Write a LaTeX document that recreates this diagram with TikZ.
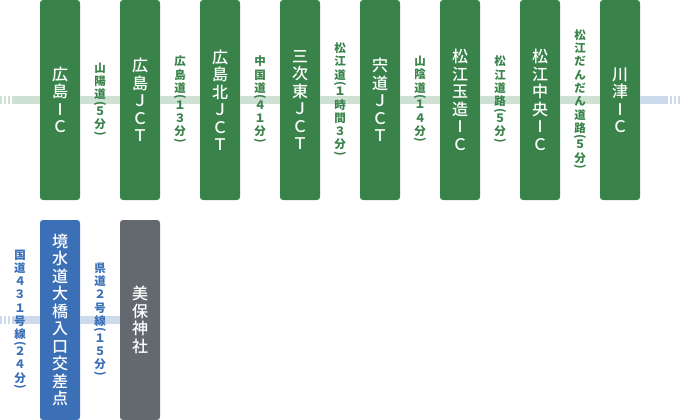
\documentclass[tikz,border=0pt]{standalone}
\usepackage{fontspec}
\usepackage{graphicx}
\setmainfont{Noto Sans CJK JP}
\newfontfamily\medfont{Noto Sans CJK JP}[UprightFont=* Medium]
\newcommand\vlp{\\[-5pt]\rotatebox[origin=c]{-90}{(}\\[-5pt]}
\newcommand\vrp{\\[-5pt]\rotatebox[origin=c]{-90}{)}}
\definecolor{gbox}{HTML}{39834B}
\definecolor{gband}{HTML}{CFE1D3}
\definecolor{bbox}{HTML}{3B6FB6}
\definecolor{bband}{HTML}{CCDAEB}
\definecolor{graybox}{HTML}{646970}
\begin{document}
\begin{tikzpicture}[x=1pt,y=-1pt,
  box/.style={rectangle, rounded corners=3pt, minimum width=40pt, minimum height=200pt,
    inner sep=0pt, fill=gbox, text=white, align=center,
    font=\medfont\fontsize{16}{17.5}\selectfont},
  bluebox/.style={box, fill=bbox},
  graybx/.style={box, fill=graybox},
  lab/.style={inner sep=0pt, align=center, text=gbox,
    font=\bfseries\fontsize{11.5}{13.3}\selectfont},
  bluelab/.style={lab, text=bbox},
  gline/.style={draw=gband, line width=8pt},
  bline/.style={draw=bband, line width=8pt},
  stripes/.style={dash pattern=on 2pt off 2pt}]
\useasboundingbox (0,0) rectangle (680,420);
% top row boxes
\node[box] (b1) at (60,100) {広\\島\\I\\Ｃ};
\node[box] (b2) at (140,100) {広\\島\\Ｊ\\Ｃ\\Ｔ};
\node[box] (b3) at (220,100) {広\\島\\北\\Ｊ\\Ｃ\\Ｔ};
\node[box] (b4) at (300,100) {三\\次\\東\\Ｊ\\Ｃ\\Ｔ};
\node[box] (b5) at (380,100) {宍\\道\\Ｊ\\Ｃ\\Ｔ};
\node[box] (b6) at (460,100) {松\\江\\玉\\造\\I\\Ｃ};
\node[box] (b7) at (540,100) {松\\江\\中\\央\\I\\Ｃ};
\node[box] (b8) at (620,100) {川\\津\\I\\Ｃ};
% bottom row boxes
\node[bluebox] (c1) at (60,320) {境\\水\\道\\大\\橋\\入\\口\\交\\差\\点};
\node[graybx] (c2) at (140,320) {美\\保\\神\\社};
% free ends
\coordinate (t0) at (0,100);
\coordinate (t1) at (10,100);
\coordinate (t2) at (12,100);
\coordinate (t3) at (668,100);
\coordinate (t4) at (670,100);
\coordinate (t5) at (680,100);
\coordinate (u0) at (0,320);
\coordinate (u1) at (10,320);
\coordinate (u2) at (12,320);
% connectors top
\draw[gline, stripes] (t0) -- (t1);
\draw[gline] (t2) -- (b1);
\draw[gline] (b1) -- (b2);
\draw[gline] (b2) -- (b3);
\draw[gline] (b3) -- (b4);
\draw[gline] (b4) -- (b5);
\draw[gline] (b5) -- (b6);
\draw[gline] (b6) -- (b7);
\draw[gline] (b7) -- (b8);
\draw[bline] (b8) -- (t3);
\draw[bline, stripes] (t4) -- (t5);
% connectors bottom
\draw[bline, stripes] (u0) -- (u1);
\draw[bline] (u2) -- (c1);
\draw[bline] (c1) -- (c2);
% labels
\node[lab] (l1) at (100,100) {山\\陽\\道\vlp ５\\分\vrp};
\node[lab] (l2) at (180,100) {広\\島\\道\vlp １\\３\\分\vrp};
\node[lab] (l3) at (260,100) {中\\国\\道\vlp ４\\１\\分\vrp};
\node[lab] (l4) at (340,100) {松\\江\\道\vlp １\\時\\間\\３\\分\vrp};
\node[lab] (l5) at (420,100) {山\\陰\\道\vlp １\\４\\分\vrp};
\node[lab] (l6) at (500,100) {松\\江\\道\\路\vlp ５\\分\vrp};
\node[lab] (l7) at (580,100) {松\\江\\だ\\ん\\だ\\ん\\道\\路\vlp ５\\分\vrp};
\node[bluelab] (m1) at (20,320) {国\\道\\４\\３\\１\\号\\線\vlp ２\\４\\分\vrp};
\node[bluelab] (m2) at (100,320) {県\\道\\２\\号\\線\vlp １\\５\\分\vrp};
\end{tikzpicture}
\end{document}
